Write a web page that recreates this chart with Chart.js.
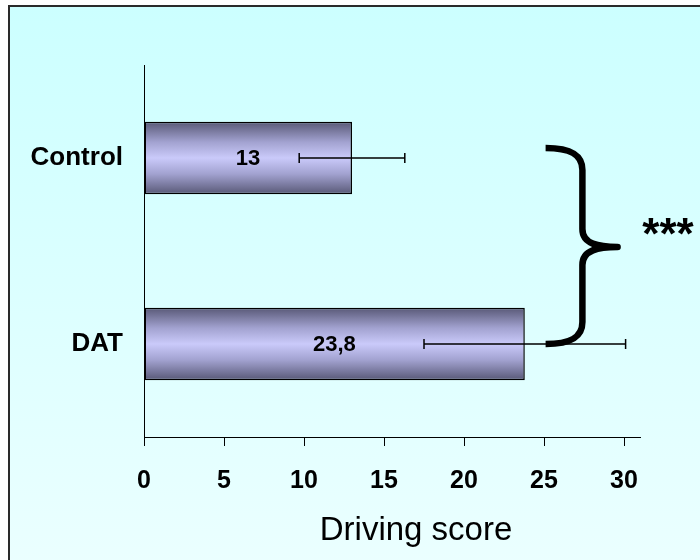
<!DOCTYPE html>
<html>
<head>
<meta charset="utf-8">
<script src="https://cdn.jsdelivr.net/npm/chart.js@4/dist/chart.umd.min.js"></script>
<style>
  html, body { margin: 0; padding: 0; background: #ffffff; width: 700px; height: 560px; overflow: hidden; }
  #frame { position: absolute; left: 8px; top: 5px; width: 720px; height: 580px;
           border-top: 2px solid #2a2a2a; border-left: 2px solid #2a2a2a;
           background: linear-gradient(to bottom, #ccffff 0%, #ecffff 100%); }
  #c { position: absolute; left: 0; top: 0; }
</style>
</head>
<body>
<div id="frame"></div>
<canvas id="c" width="700" height="560"></canvas>
<script>
// ---- data ----
const categories = ['Control', 'DAT'];
const scores = [13, 23.8];
const errors = [3.3, 6.3];
const xTicks = [0, 5, 10, 15, 20, 25, 30];
const xMax = 31;
const axisTitle = 'Driving score';
const significance = '***';

const FONT = "'Liberation Sans', Arial, Helvetica, sans-serif";
const BAR_FRACTION = 0.39;

function barGradient(ctx) {
  const chart = ctx.chart;
  const area = chart.chartArea;
  if (!area || ctx.type !== 'data' || !chart.scales.y) return '#c8c8f8';
  const c = chart.scales.y.getPixelForValue(ctx.dataIndex);
  const h = (area.bottom - area.top) / categories.length * BAR_FRACTION;
  const g = chart.ctx.createLinearGradient(0, c - h / 2, 0, c + h / 2);
  g.addColorStop(0, '#585876');
  g.addColorStop(0.28, '#a2a2d0');
  g.addColorStop(0.5, '#cacafa');
  g.addColorStop(0.72, '#a2a2d0');
  g.addColorStop(1, '#585876');
  return g;
}

const extrasPlugin = {
  id: 'extras',
  afterDatasetsDraw(chart) {
    const ctx = chart.ctx;
    const xs = chart.scales.x, ys = chart.scales.y;
    ctx.save();
    // value labels
    ctx.fillStyle = '#000';
    ctx.font = 'bold 22px ' + FONT;
    ctx.textAlign = 'center';
    ctx.textBaseline = 'middle';
    scores.forEach((v, i) => {
      const x = (xs.getPixelForValue(0) + xs.getPixelForValue(v)) / 2;
      const y = ys.getPixelForValue(i);
      ctx.fillText(String(v).replace('.', ','), x, y + 1);
    });
    // error bars
    ctx.strokeStyle = '#000';
    ctx.lineWidth = 1.5;
    scores.forEach((v, i) => {
      const y = ys.getPixelForValue(i);
      const x1 = xs.getPixelForValue(v - errors[i]);
      const x2 = xs.getPixelForValue(v + errors[i]);
      ctx.beginPath();
      ctx.moveTo(x1, y); ctx.lineTo(x2, y);
      ctx.moveTo(x1, y - 5); ctx.lineTo(x1, y + 5);
      ctx.moveTo(x2, y - 5); ctx.lineTo(x2, y + 5);
      ctx.stroke();
    });
    // significance brace
    const xa = xs.getPixelForValue(25.1);
    const xb = xs.getPixelForValue(27.4);
    const xt = xs.getPixelForValue(29.6);
    const yTop = ys.getPixelForValue(0) - 10;
    const yBot = ys.getPixelForValue(1);
    const yMid = (yTop + yBot) / 2 + 1;
    ctx.lineWidth = 6.5;
    ctx.lineJoin = 'round';
    ctx.beginPath();
    ctx.moveTo(xa, yTop);
    ctx.bezierCurveTo(xa + 24, yTop, xb, yTop + 6, xb, yTop + 22);
    ctx.lineTo(xb, yMid - 18);
    ctx.bezierCurveTo(xb, yMid - 3, xb + 16, yMid, xt, yMid);
    ctx.bezierCurveTo(xb + 16, yMid, xb, yMid + 3, xb, yMid + 18);
    ctx.lineTo(xb, yBot - 22);
    ctx.bezierCurveTo(xb, yBot - 6, xa + 24, yBot, xa, yBot);
    ctx.stroke();
    // stars
    ctx.font = 'bold 44px ' + FONT;
    ctx.textAlign = 'center';
    ctx.textBaseline = 'alphabetic';
    ctx.fillText(significance, 668, 249);
    // axis title
    ctx.font = '33px ' + FONT;
    ctx.fillText(axisTitle, 416, 540);
    ctx.restore();
  }
};

new Chart(document.getElementById('c'), {
  type: 'bar',
  data: {
    labels: categories,
    datasets: [{
      data: scores,
      backgroundColor: barGradient,
      borderColor: '#000',
      borderWidth: 1.5,
      borderSkipped: false,
      categoryPercentage: 1,
      barPercentage: BAR_FRACTION
    }]
  },
  options: {
    indexAxis: 'y',
    responsive: false,
    animation: false,
    devicePixelRatio: 1,
    layout: { padding: { left: 0, top: 65, right: 60, bottom: 0 } },
    plugins: { legend: { display: false }, tooltip: { enabled: false }, title: { display: false } },
    scales: {
      x: {
        type: 'linear',
        min: 0,
        max: xMax,
        afterBuildTicks(scale) { scale.ticks = xTicks.map(v => ({ value: v })); },
        afterFit(scale) { scale.height = 123; },
        grid: { display: true, drawOnChartArea: false, drawTicks: true, tickLength: 9, color: '#000', lineWidth: 1 },
        border: { display: true, color: '#000', width: 1 },
        ticks: { color: '#000', font: { family: FONT, size: 25, weight: 'bold' }, padding: 20, maxRotation: 0, autoSkip: false }
      },
      y: {
        type: 'category',
        offset: true,
        afterFit(scale) { scale.width = 144; },
        grid: { display: true, drawOnChartArea: false, drawTicks: false },
        border: { display: true, color: '#000', width: 1 },
        ticks: { color: '#000', font: { family: FONT, size: 26, weight: 'bold' }, padding: 21 }
      }
    }
  },
  plugins: [extrasPlugin]
});
</script>
</body>
</html>
